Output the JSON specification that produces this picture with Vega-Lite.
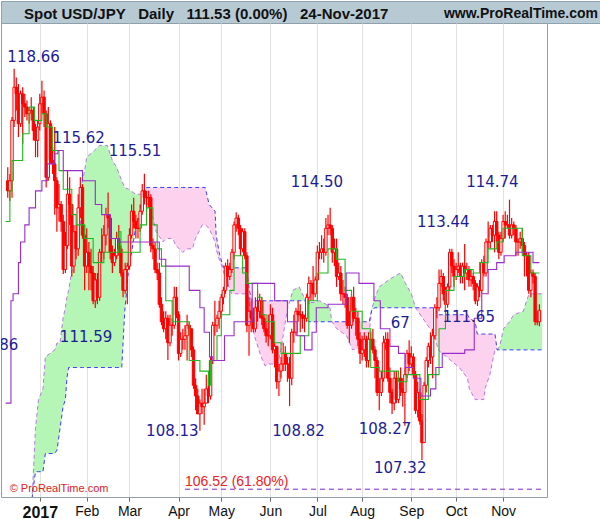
{
"$schema": "https://vega.github.io/schema/vega-lite/v6.json",
"padding": 0,
"autosize": {"type": "pad"},
"spacing": 0,
"bounds": "flush",
"background": "white",
"config": {"view": {"stroke": null}, "font": "Liberation Sans"},
"datasets": {
"header": [{"side": "left", "t": "Spot USD/JPY\u00a0\u00a0\u00a0Daily\u00a0\u00a0\u00a0111.53 (0.00%)\u00a0\u00a0\u00a024-Nov-2017"}, {"side": "right", "t": "www.ProRealTime.com"}],
"candles": [
{"i":-15,"o":115.3,"h":115.7,"l":114.8,"c":115.0},
{"i":-14,"o":115.0,"h":115.5,"l":114.7,"c":115.3},
{"i":-13,"o":115.3,"h":117.2,"l":114.8,"c":117.1},
{"i":-12,"o":117.1,"h":118.66,"l":116.9,"c":118.1},
{"i":-11,"o":118.1,"h":118.4,"l":117.4,"c":117.9},
{"i":-10,"o":117.9,"h":118.2,"l":116.6,"c":117.0},
{"i":-9,"o":117.0,"h":118.0,"l":116.9,"c":117.9},
{"i":-8,"o":117.9,"h":118.1,"l":116.4,"c":117.6},
{"i":-7,"o":117.6,"h":117.9,"l":117.2,"c":117.5},
{"i":-6,"o":117.5,"h":117.7,"l":117.1,"c":117.3},
{"i":-5,"o":117.3,"h":117.5,"l":117.0,"c":117.4},
{"i":-4,"o":117.4,"h":117.8,"l":117.1,"c":117.4},
{"i":-3,"o":117.4,"h":117.5,"l":116.5,"c":116.8},
{"i":-2,"o":116.8,"h":117.0,"l":116.0,"c":116.5},
{"i":-1,"o":116.5,"h":117.1,"l":116.0,"c":116.9},
{"i":0,"o":117.0,"h":117.9,"l":116.8,"c":117.6},
{"i":1,"o":117.6,"h":118.3,"l":117.3,"c":117.8},
{"i":2,"o":117.8,"h":118.0,"l":116.9,"c":117.3},
{"i":3,"o":117.3,"h":117.4,"l":115.1,"c":115.4},
{"i":4,"o":115.4,"h":117.5,"l":115.3,"c":117.0},
{"i":5,"o":117.0,"h":117.1,"l":115.8,"c":115.9},
{"i":6,"o":115.9,"h":116.3,"l":115.5,"c":115.8},
{"i":7,"o":115.8,"h":116.9,"l":114.3,"c":115.3},
{"i":8,"o":115.3,"h":115.4,"l":113.8,"c":114.5},
{"i":9,"o":114.5,"h":115.2,"l":114.1,"c":114.6},
{"i":10,"o":114.6,"h":114.7,"l":113.8,"c":114.1},
{"i":11,"o":114.1,"h":114.3,"l":112.57,"c":112.7},
{"i":12,"o":112.7,"h":113.8,"l":112.6,"c":113.4},
{"i":13,"o":113.4,"h":115.62,"l":113.3,"c":114.9},
{"i":14,"o":114.9,"h":115.4,"l":114.0,"c":114.6},
{"i":15,"o":114.6,"h":114.6,"l":112.5,"c":112.8},
{"i":16,"o":112.8,"h":114.0,"l":112.6,"c":113.8},
{"i":17,"o":113.8,"h":114.0,"l":113.0,"c":113.3},
{"i":18,"o":113.3,"h":114.9,"l":113.1,"c":114.5},
{"i":19,"o":114.5,"h":115.4,"l":114.2,"c":115.1},
{"i":20,"o":115.1,"h":115.2,"l":113.6,"c":113.7},
{"i":21,"o":113.7,"h":114.0,"l":112.1,"c":112.8},
{"i":22,"o":112.8,"h":113.9,"l":112.6,"c":113.2},
{"i":23,"o":113.2,"h":113.5,"l":112.1,"c":112.8},
{"i":24,"o":112.8,"h":113.3,"l":112.1,"c":112.6},
{"i":25,"o":112.6,"h":112.8,"l":111.7,"c":111.8},
{"i":26,"o":111.8,"h":112.6,"l":111.59,"c":112.4},
{"i":27,"o":112.4,"h":112.6,"l":111.7,"c":111.9},
{"i":28,"o":111.9,"h":113.3,"l":111.8,"c":113.2},
{"i":29,"o":113.2,"h":113.9,"l":112.9,"c":113.2},
{"i":30,"o":113.2,"h":114.0,"l":113.0,"c":113.7},
{"i":31,"o":113.7,"h":114.5,"l":113.4,"c":114.3},
{"i":32,"o":114.3,"h":114.95,"l":113.9,"c":114.2},
{"i":33,"o":114.2,"h":114.3,"l":113.0,"c":113.2},
{"i":34,"o":113.2,"h":113.4,"l":112.6,"c":112.9},
{"i":35,"o":112.9,"h":113.3,"l":112.8,"c":113.1},
{"i":36,"o":113.1,"h":113.8,"l":113.0,"c":113.6},
{"i":37,"o":113.6,"h":114.0,"l":113.1,"c":113.3},
{"i":38,"o":113.3,"h":113.4,"l":112.5,"c":112.6},
{"i":39,"o":112.6,"h":112.7,"l":111.9,"c":112.1},
{"i":40,"o":112.1,"h":112.9,"l":112.0,"c":112.7},
{"i":41,"o":112.7,"h":112.9,"l":111.7,"c":112.8},
{"i":42,"o":112.8,"h":113.9,"l":112.7,"c":113.7},
{"i":43,"o":113.7,"h":114.6,"l":113.6,"c":114.4},
{"i":44,"o":114.4,"h":114.8,"l":113.9,"c":114.1},
{"i":45,"o":114.1,"h":114.3,"l":113.6,"c":113.9},
{"i":46,"o":113.9,"h":114.2,"l":113.6,"c":113.9},
{"i":47,"o":113.9,"h":114.6,"l":113.8,"c":114.4},
{"i":48,"o":114.4,"h":115.2,"l":114.3,"c":115.0},
{"i":49,"o":115.0,"h":115.51,"l":114.6,"c":114.8},
{"i":50,"o":114.8,"h":115.0,"l":114.4,"c":114.8},
{"i":51,"o":114.8,"h":115.0,"l":114.5,"c":114.8},
{"i":52,"o":114.8,"h":114.9,"l":113.2,"c":113.4},
{"i":53,"o":113.4,"h":113.6,"l":113.0,"c":113.3},
{"i":54,"o":113.3,"h":113.5,"l":112.6,"c":112.7},
{"i":55,"o":112.7,"h":112.9,"l":112.4,"c":112.6},
{"i":56,"o":112.6,"h":112.9,"l":111.6,"c":111.7},
{"i":57,"o":111.7,"h":111.9,"l":111.1,"c":111.2},
{"i":58,"o":111.2,"h":111.5,"l":110.9,"c":111.0},
{"i":59,"o":111.0,"h":111.5,"l":110.7,"c":111.3},
{"i":60,"o":111.3,"h":111.4,"l":110.11,"c":110.6},
{"i":61,"o":110.6,"h":111.4,"l":110.5,"c":111.1},
{"i":62,"o":111.1,"h":111.3,"l":110.8,"c":111.1},
{"i":63,"o":111.1,"h":112.2,"l":111.0,"c":111.9},
{"i":64,"o":111.9,"h":112.2,"l":111.3,"c":111.4},
{"i":65,"o":111.4,"h":111.5,"l":110.1,"c":110.3},
{"i":66,"o":110.3,"h":110.9,"l":110.2,"c":110.7},
{"i":67,"o":110.7,"h":111.0,"l":110.4,"c":110.7},
{"i":68,"o":110.7,"h":111.1,"l":110.4,"c":110.8},
{"i":69,"o":110.8,"h":111.4,"l":110.1,"c":111.1},
{"i":70,"o":111.1,"h":111.2,"l":110.8,"c":111.0},
{"i":71,"o":111.0,"h":111.0,"l":110.2,"c":110.4},
{"i":72,"o":110.4,"h":110.5,"l":109.3,"c":109.4},
{"i":73,"o":109.4,"h":109.6,"l":108.7,"c":109.1},
{"i":74,"o":109.1,"h":109.3,"l":108.6,"c":108.6},
{"i":75,"o":108.6,"h":109.0,"l":108.13,"c":108.9},
{"i":76,"o":108.9,"h":109.3,"l":108.6,"c":108.8},
{"i":77,"o":108.8,"h":109.3,"l":108.3,"c":108.9},
{"i":78,"o":108.9,"h":109.7,"l":108.9,"c":109.3},
{"i":79,"o":109.3,"h":109.6,"l":108.9,"c":109.1},
{"i":80,"o":109.1,"h":110.2,"l":109.0,"c":110.1},
{"i":81,"o":110.1,"h":111.2,"l":110.0,"c":111.1},
{"i":82,"o":111.1,"h":111.8,"l":110.8,"c":111.1},
{"i":83,"o":111.1,"h":111.4,"l":110.9,"c":111.3},
{"i":84,"o":111.3,"h":111.8,"l":111.0,"c":111.5},
{"i":85,"o":111.5,"h":112.0,"l":111.3,"c":111.9},
{"i":86,"o":111.9,"h":112.2,"l":111.7,"c":112.1},
{"i":87,"o":112.1,"h":112.9,"l":112.0,"c":112.8},
{"i":88,"o":112.8,"h":113.0,"l":112.2,"c":112.5},
{"i":89,"o":112.5,"h":112.9,"l":112.4,"c":112.7},
{"i":90,"o":112.7,"h":113.3,"l":112.6,"c":113.2},
{"i":91,"o":113.2,"h":114.1,"l":113.0,"c":114.0},
{"i":92,"o":114.0,"h":114.37,"l":113.8,"c":114.2},
{"i":93,"o":114.2,"h":114.3,"l":113.7,"c":113.9},
{"i":94,"o":113.9,"h":114.0,"l":113.1,"c":113.3},
{"i":95,"o":113.3,"h":113.9,"l":113.2,"c":113.8},
{"i":96,"o":113.8,"h":113.9,"l":113.0,"c":113.1},
{"i":97,"o":113.1,"h":113.2,"l":110.9,"c":111.1},
{"i":98,"o":111.1,"h":111.9,"l":110.23,"c":111.5},
{"i":99,"o":111.5,"h":111.8,"l":110.9,"c":111.3},
{"i":100,"o":111.3,"h":111.6,"l":110.9,"c":111.0},
{"i":101,"o":111.0,"h":111.9,"l":110.9,"c":111.6},
{"i":102,"o":111.6,"h":112.1,"l":111.2,"c":111.5},
{"i":103,"o":111.5,"h":112.0,"l":111.3,"c":111.8},
{"i":104,"o":111.8,"h":111.9,"l":111.1,"c":111.3},
{"i":105,"o":111.3,"h":111.4,"l":110.9,"c":111.0},
{"i":106,"o":111.0,"h":111.2,"l":110.6,"c":110.8},
{"i":107,"o":110.8,"h":111.4,"l":110.5,"c":110.8},
{"i":108,"o":110.8,"h":111.7,"l":110.7,"c":111.4},
{"i":109,"o":111.4,"h":111.6,"l":110.3,"c":110.4},
{"i":110,"o":110.4,"h":110.6,"l":109.9,"c":110.5},
{"i":111,"o":110.5,"h":110.5,"l":109.3,"c":109.5},
{"i":112,"o":109.5,"h":110.0,"l":109.1,"c":109.8},
{"i":113,"o":109.8,"h":110.2,"l":109.6,"c":110.0},
{"i":114,"o":110.0,"h":110.6,"l":109.8,"c":110.3},
{"i":115,"o":110.3,"h":110.5,"l":109.8,"c":110.0},
{"i":116,"o":110.0,"h":110.2,"l":109.5,"c":110.0},
{"i":117,"o":110.0,"h":110.2,"l":108.82,"c":109.6},
{"i":118,"o":109.6,"h":111.0,"l":109.4,"c":110.9},
{"i":119,"o":110.9,"h":111.4,"l":110.6,"c":110.9},
{"i":120,"o":110.9,"h":111.6,"l":110.8,"c":111.5},
{"i":121,"o":111.5,"h":111.8,"l":111.2,"c":111.4},
{"i":122,"o":111.4,"h":111.7,"l":110.9,"c":111.4},
{"i":123,"o":111.4,"h":111.5,"l":111.0,"c":111.3},
{"i":124,"o":111.3,"h":111.4,"l":110.9,"c":111.3},
{"i":125,"o":111.3,"h":112.0,"l":111.2,"c":111.9},
{"i":126,"o":111.9,"h":112.5,"l":111.7,"c":112.3},
{"i":127,"o":112.3,"h":112.4,"l":111.8,"c":112.3},
{"i":128,"o":112.3,"h":112.8,"l":111.8,"c":112.0},
{"i":129,"o":112.0,"h":112.5,"l":111.9,"c":112.4},
{"i":130,"o":112.4,"h":113.4,"l":112.3,"c":113.2},
{"i":131,"o":113.2,"h":113.5,"l":113.0,"c":113.2},
{"i":132,"o":113.2,"h":113.7,"l":113.0,"c":113.3},
{"i":133,"o":113.3,"h":113.6,"l":112.9,"c":113.2},
{"i":134,"o":113.2,"h":114.2,"l":113.1,"c":113.9},
{"i":135,"o":113.9,"h":114.3,"l":113.7,"c":114.0},
{"i":136,"o":114.0,"h":114.5,"l":113.7,"c":113.9},
{"i":137,"o":113.9,"h":114.0,"l":112.9,"c":113.2},
{"i":138,"o":113.2,"h":113.6,"l":112.8,"c":113.3},
{"i":139,"o":113.3,"h":113.6,"l":112.2,"c":112.5},
{"i":140,"o":112.5,"h":112.9,"l":112.4,"c":112.6},
{"i":141,"o":112.6,"h":112.8,"l":111.8,"c":112.0},
{"i":142,"o":112.0,"h":112.4,"l":111.7,"c":112.0},
{"i":143,"o":112.0,"h":112.2,"l":111.6,"c":111.9},
{"i":144,"o":111.9,"h":112.0,"l":111.0,"c":111.1},
{"i":145,"o":111.1,"h":111.5,"l":110.6,"c":111.1},
{"i":146,"o":111.1,"h":112.0,"l":111.0,"c":111.9},
{"i":147,"o":111.9,"h":112.2,"l":111.2,"c":111.3},
{"i":148,"o":111.3,"h":111.6,"l":110.8,"c":111.3},
{"i":149,"o":111.3,"h":111.5,"l":110.5,"c":110.7},
{"i":150,"o":110.7,"h":110.9,"l":110.0,"c":110.3},
{"i":151,"o":110.3,"h":110.8,"l":110.1,"c":110.4},
{"i":152,"o":110.4,"h":110.9,"l":110.2,"c":110.7},
{"i":153,"o":110.7,"h":110.8,"l":109.9,"c":110.1},
{"i":154,"o":110.1,"h":110.9,"l":109.9,"c":110.7},
{"i":155,"o":110.7,"h":110.9,"l":110.4,"c":110.7},
{"i":156,"o":110.7,"h":111.0,"l":110.3,"c":110.4},
{"i":157,"o":110.4,"h":110.5,"l":109.6,"c":110.1},
{"i":158,"o":110.1,"h":110.2,"l":109.1,"c":109.2},
{"i":159,"o":109.2,"h":109.6,"l":108.7,"c":109.2},
{"i":160,"o":109.2,"h":109.8,"l":109.1,"c":109.6},
{"i":161,"o":109.6,"h":110.8,"l":109.5,"c":110.6},
{"i":162,"o":110.6,"h":110.9,"l":110.4,"c":110.7},
{"i":163,"o":110.7,"h":110.9,"l":109.5,"c":109.6},
{"i":164,"o":109.6,"h":109.9,"l":108.9,"c":109.2},
{"i":165,"o":109.2,"h":109.3,"l":108.6,"c":108.9},
{"i":166,"o":108.9,"h":109.8,"l":108.7,"c":109.6},
{"i":167,"o":109.6,"h":109.8,"l":108.9,"c":109.0},
{"i":168,"o":109.0,"h":109.8,"l":108.9,"c":109.6},
{"i":169,"o":109.6,"h":109.9,"l":109.1,"c":109.3},
{"i":170,"o":109.3,"h":109.6,"l":108.8,"c":109.2},
{"i":171,"o":109.2,"h":109.9,"l":108.27,"c":109.7},
{"i":172,"o":109.7,"h":110.4,"l":109.6,"c":110.3},
{"i":173,"o":110.3,"h":110.67,"l":109.8,"c":110.0},
{"i":174,"o":110.0,"h":110.5,"l":109.9,"c":110.2},
{"i":175,"o":110.2,"h":110.3,"l":109.6,"c":109.7},
{"i":176,"o":109.7,"h":109.8,"l":108.6,"c":108.7},
{"i":177,"o":108.7,"h":109.5,"l":108.5,"c":109.2},
{"i":178,"o":109.2,"h":109.3,"l":108.3,"c":108.4},
{"i":179,"o":108.4,"h":108.6,"l":107.32,"c":107.8},
{"i":180,"o":107.8,"h":109.5,"l":107.8,"c":109.4},
{"i":181,"o":109.4,"h":110.2,"l":109.2,"c":110.1},
{"i":182,"o":110.1,"h":110.6,"l":109.9,"c":110.5},
{"i":183,"o":110.5,"h":110.9,"l":110.0,"c":110.2},
{"i":184,"o":110.2,"h":111.0,"l":109.6,"c":110.8},
{"i":185,"o":110.8,"h":111.7,"l":110.7,"c":111.6},
{"i":186,"o":111.6,"h":111.9,"l":111.3,"c":111.6},
{"i":187,"o":111.6,"h":112.7,"l":111.5,"c":112.3},
{"i":188,"o":112.3,"h":112.7,"l":112.2,"c":112.5},
{"i":189,"o":112.5,"h":112.6,"l":111.8,"c":112.0},
{"i":190,"o":112.0,"h":112.2,"l":111.5,"c":111.7},
{"i":191,"o":111.7,"h":112.3,"l":111.6,"c":112.2},
{"i":192,"o":112.2,"h":113.3,"l":112.1,"c":113.2},
{"i":193,"o":113.2,"h":113.3,"l":112.6,"c":112.8},
{"i":194,"o":112.8,"h":113.0,"l":112.2,"c":112.5},
{"i":195,"o":112.5,"h":112.9,"l":112.4,"c":112.7},
{"i":196,"o":112.7,"h":113.2,"l":112.6,"c":112.8},
{"i":197,"o":112.8,"h":112.9,"l":112.3,"c":112.5},
{"i":198,"o":112.5,"h":112.9,"l":112.3,"c":112.8},
{"i":199,"o":112.8,"h":113.44,"l":112.1,"c":112.6},
{"i":200,"o":112.6,"h":112.9,"l":112.4,"c":112.7},
{"i":201,"o":112.7,"h":112.8,"l":112.2,"c":112.4},
{"i":202,"o":112.4,"h":112.7,"l":112.2,"c":112.5},
{"i":203,"o":112.5,"h":112.6,"l":112.1,"c":112.3},
{"i":204,"o":112.3,"h":112.4,"l":111.7,"c":111.8},
{"i":205,"o":111.8,"h":112.3,"l":111.65,"c":112.2},
{"i":206,"o":112.2,"h":112.4,"l":111.9,"c":112.1},
{"i":207,"o":112.1,"h":113.0,"l":112.0,"c":112.9},
{"i":208,"o":112.9,"h":113.1,"l":112.5,"c":112.6},
{"i":209,"o":112.6,"h":113.6,"l":112.5,"c":113.5},
{"i":210,"o":113.5,"h":114.1,"l":113.3,"c":113.5},
{"i":211,"o":113.5,"h":114.0,"l":113.3,"c":113.9},
{"i":212,"o":113.9,"h":114.0,"l":113.5,"c":113.7},
{"i":213,"o":113.7,"h":114.4,"l":113.2,"c":114.1},
{"i":214,"o":114.1,"h":114.4,"l":113.5,"c":113.7},
{"i":215,"o":113.7,"h":113.8,"l":113.0,"c":113.2},
{"i":216,"o":113.2,"h":113.8,"l":113.1,"c":113.6},
{"i":217,"o":113.6,"h":114.3,"l":113.5,"c":114.1},
{"i":218,"o":114.1,"h":114.4,"l":113.6,"c":114.0},
{"i":219,"o":114.0,"h":114.3,"l":113.9,"c":114.0},
{"i":220,"o":114.0,"h":114.74,"l":113.6,"c":113.7},
{"i":221,"o":113.7,"h":114.2,"l":113.6,"c":114.0},
{"i":222,"o":114.0,"h":114.1,"l":113.7,"c":113.9},
{"i":223,"o":113.9,"h":114.0,"l":113.1,"c":113.5},
{"i":224,"o":113.5,"h":113.6,"l":113.1,"c":113.5},
{"i":225,"o":113.5,"h":113.8,"l":113.3,"c":113.6},
{"i":226,"o":113.6,"h":113.9,"l":113.2,"c":113.4},
{"i":227,"o":113.4,"h":113.5,"l":112.5,"c":113.1},
{"i":228,"o":113.1,"h":113.2,"l":112.5,"c":113.1},
{"i":229,"o":113.1,"h":113.2,"l":112.0,"c":112.1},
{"i":230,"o":112.1,"h":112.7,"l":111.9,"c":112.6},
{"i":231,"o":112.6,"h":112.7,"l":112.3,"c":112.5},
{"i":232,"o":112.5,"h":112.6,"l":111.1,"c":111.2},
{"i":233,"o":111.2,"h":111.5,"l":111.1,"c":111.2},
{"i":234,"o":111.2,"h":111.7,"l":111.07,"c":111.53}
],
"tenkan": [
{"i":-16,"v":114.1},{"i":-14,"v":115.0},{"i":-13,"v":115.9},{"i":-8,"v":116.7},{"i":-5,"v":117.5},{"i":-2.5,"v":117.1},{"i":1,"v":117.3},{"i":3,"v":116.9},{"i":6,"v":116.2},{"i":9,"v":115.6},{"i":11,"v":115.05},{"i":15,"v":114.3},{"i":17,"v":114.0},{"i":21,"v":113.6},{"i":25,"v":112.9},{"i":30,"v":113.2},{"i":37,"v":113.8},{"i":38,"v":113.2},{"i":47,"v":114.0},{"i":50,"v":114.5},{"i":53,"v":114.0},{"i":55,"v":113.3},{"i":57,"v":112.8},{"i":59,"v":111.8},{"i":62,"v":111.2},{"i":70,"v":110.1},{"i":75,"v":109.8},{"i":79,"v":109.4},{"i":80,"v":110.1},{"i":83,"v":110.8},{"i":85,"v":111.4},{"i":89,"v":112.1},{"i":91,"v":113.1},{"i":95,"v":112.6},{"i":97,"v":112.3},{"i":102,"v":111.9},{"i":104,"v":111.4},{"i":106,"v":111.2},{"i":110,"v":110.6},{"i":113,"v":110.3},{"i":122,"v":110.8},{"i":126,"v":111.8},{"i":130,"v":112.6},{"i":135,"v":113.3},{"i":139,"v":113.0},{"i":143,"v":112.1},{"i":146,"v":111.5},{"i":151,"v":111.0},{"i":155,"v":109.9},{"i":159,"v":109.8},{"i":168,"v":109.5},{"i":172,"v":109.7},{"i":178,"v":109.0},{"i":182,"v":109.7},{"i":187,"v":111.0},{"i":190,"v":112.1},{"i":194,"v":112.5},{"i":199,"v":112.7},{"i":203,"v":112.6},{"i":206,"v":112.9},{"i":210,"v":113.3},{"i":214,"v":113.5},{"i":217,"v":113.9},{"i":226,"v":113.1},{"i":230,"v":112.6},{"i":234,"v":112.6}
],
"kijun": [
{"i":-16,"v":108.9},{"i":-13.5,"v":111.8},{"i":-12.5,"v":112.0},{"i":-10,"v":112.9},{"i":-9,"v":113.5},{"i":-7,"v":114.0},{"i":-5,"v":114.5},{"i":-2,"v":115.0},{"i":1,"v":115.3},{"i":3.5,"v":115.8},{"i":7,"v":116.1},{"i":8.5,"v":116.2},{"i":11,"v":115.6},{"i":20,"v":115.3},{"i":26,"v":114.6},{"i":29,"v":114.3},{"i":33,"v":113.6},{"i":37,"v":113.5},{"i":56,"v":113.0},{"i":59,"v":112.8},{"i":70,"v":112.1},{"i":75,"v":111.6},{"i":77,"v":110.9},{"i":79.5,"v":110.2},{"i":81,"v":110.1},{"i":86.5,"v":110.8},{"i":91,"v":111.2},{"i":99.5,"v":112.3},{"i":110,"v":111.8},{"i":116,"v":111.2},{"i":120.5,"v":110.8},{"i":124,"v":110.4},{"i":127.5,"v":110.9},{"i":129.5,"v":111.6},{"i":135,"v":111.7},{"i":143.5,"v":112.6},{"i":149.5,"v":112.3},{"i":156.5,"v":111.8},{"i":159.5,"v":111.0},{"i":164,"v":110.5},{"i":168,"v":110.3},{"i":171,"v":109.9},{"i":175,"v":109.6},{"i":178.5,"v":109.1},{"i":183,"v":109.3},{"i":185.5,"v":109.9},{"i":188.5,"v":110.3},{"i":199,"v":110.4},{"i":203.5,"v":111.3},{"i":207,"v":112.0},{"i":210,"v":112.7},{"i":214,"v":112.9},{"i":217.5,"v":113.1},{"i":223,"v":113.2},{"i":231,"v":112.9},{"i":234,"v":112.9}
],
"cloud": [
{"seg":1,"k":"g","i":-16,"a":104.5,"b":104.0},
{"seg":1,"k":"g","i":-5,"a":105.5,"b":105.0},
{"seg":1,"k":"g","i":-3.4,"a":106.5,"b":106.4},
{"seg":1,"k":"g","i":-2,"a":108.2,"b":107.0},
{"seg":1,"k":"g","i":-0.6,"a":109.0,"b":107.0},
{"seg":1,"k":"g","i":1.5,"a":109.3,"b":107.0},
{"seg":1,"k":"g","i":2.6,"a":110.2,"b":107.5},
{"seg":1,"k":"g","i":7,"a":110.4,"b":107.5},
{"seg":1,"k":"g","i":8.1,"a":110.6,"b":107.6},
{"seg":1,"k":"g","i":9.5,"a":110.6,"b":108.2},
{"seg":1,"k":"g","i":10.9,"a":111.3,"b":108.8},
{"seg":1,"k":"g","i":12,"a":111.6,"b":109.0},
{"seg":1,"k":"g","i":12.7,"a":111.9,"b":109.6},
{"seg":1,"k":"g","i":13.5,"a":112.1,"b":109.9},
{"seg":1,"k":"g","i":16,"a":113.0,"b":109.9},
{"seg":1,"k":"g","i":19,"a":114.0,"b":109.9},
{"seg":1,"k":"g","i":20,"a":115.3,"b":109.9},
{"seg":1,"k":"g","i":21,"a":115.6,"b":109.9},
{"seg":1,"k":"g","i":22,"a":116.0,"b":109.9},
{"seg":1,"k":"g","i":25.6,"a":116.2,"b":109.9},
{"seg":1,"k":"g","i":28,"a":116.35,"b":109.9},
{"seg":1,"k":"g","i":31.6,"a":116.35,"b":109.9},
{"seg":1,"k":"g","i":34,"a":115.9,"b":109.9},
{"seg":1,"k":"g","i":36,"a":115.7,"b":109.9},
{"seg":1,"k":"g","i":38.4,"a":115.3,"b":109.9},
{"seg":1,"k":"g","i":39.8,"a":115.1,"b":111.5},
{"seg":1,"k":"g","i":41.6,"a":115.05,"b":112.7},
{"seg":1,"k":"g","i":44.9,"a":114.9,"b":113.9},
{"seg":1,"k":"g","i":47.6,"a":114.9,"b":114.6},
{"seg":1,"k":"g","i":48.5,"a":114.8,"b":114.8},
{"seg":2,"k":"p","i":48.5,"a":114.8,"b":114.8},
{"seg":2,"k":"p","i":49.9,"a":114.65,"b":115.1},
{"seg":2,"k":"p","i":51.8,"a":114.5,"b":115.1},
{"seg":2,"k":"p","i":54.5,"a":113.8,"b":115.1},
{"seg":2,"k":"p","i":57.7,"a":113.5,"b":115.1},
{"seg":2,"k":"p","i":59.1,"a":113.6,"b":115.1},
{"seg":2,"k":"p","i":62.3,"a":113.6,"b":115.1},
{"seg":2,"k":"p","i":63.7,"a":113.4,"b":115.1},
{"seg":2,"k":"p","i":66.9,"a":113.2,"b":115.1},
{"seg":2,"k":"p","i":69,"a":113.3,"b":115.1},
{"seg":2,"k":"p","i":71.5,"a":113.3,"b":115.1},
{"seg":2,"k":"p","i":72.9,"a":113.6,"b":115.1},
{"seg":2,"k":"p","i":76.1,"a":114.0,"b":115.1},
{"seg":2,"k":"p","i":77.5,"a":114.0,"b":115.1},
{"seg":2,"k":"p","i":79.3,"a":113.9,"b":114.6},
{"seg":2,"k":"p","i":82.1,"a":113.5,"b":114.4},
{"seg":2,"k":"p","i":82.6,"a":113.3,"b":113.7},
{"seg":2,"k":"p","i":84,"a":113.0,"b":113.2},
{"seg":2,"k":"p","i":85.3,"a":112.8,"b":112.9},
{"seg":2,"k":"p","i":86.2,"a":112.6,"b":112.75},
{"seg":2,"k":"p","i":89.9,"a":112.0,"b":112.75},
{"seg":2,"k":"p","i":96.8,"a":112.0,"b":112.75},
{"seg":2,"k":"p","i":97.7,"a":111.9,"b":112.3},
{"seg":2,"k":"p","i":99.1,"a":111.3,"b":111.8},
{"seg":2,"k":"p","i":100.5,"a":110.8,"b":111.8},
{"seg":2,"k":"p","i":103.7,"a":110.2,"b":111.8},
{"seg":2,"k":"p","i":105.5,"a":109.95,"b":111.8},
{"seg":2,"k":"p","i":107.4,"a":110.0,"b":111.8},
{"seg":2,"k":"p","i":111.5,"a":110.0,"b":111.8},
{"seg":2,"k":"p","i":112.9,"a":110.4,"b":111.8},
{"seg":2,"k":"p","i":114.5,"a":111.0,"b":111.8},
{"seg":2,"k":"p","i":116.1,"a":111.6,"b":111.8},
{"seg":2,"k":"p","i":117.2,"a":111.8,"b":111.8},
{"seg":3,"k":"g","i":117.2,"a":111.8,"b":111.8},
{"seg":3,"k":"g","i":118.5,"a":112.1,"b":111.8},
{"seg":3,"k":"g","i":121.5,"a":112.2,"b":111.8},
{"seg":3,"k":"g","i":123,"a":112.0,"b":111.8},
{"seg":3,"k":"g","i":124.6,"a":111.8,"b":111.8},
{"seg":3,"k":"g","i":125.8,"a":111.75,"b":111.2},
{"seg":3,"k":"g","i":128,"a":111.75,"b":111.2},
{"seg":3,"k":"g","i":131,"a":111.8,"b":111.2},
{"seg":3,"k":"g","i":134,"a":111.7,"b":111.2},
{"seg":3,"k":"g","i":135.9,"a":111.6,"b":111.2},
{"seg":3,"k":"g","i":136.8,"a":111.2,"b":111.2},
{"seg":4,"k":"p","i":136.8,"a":111.2,"b":111.2},
{"seg":4,"k":"p","i":139.1,"a":111.0,"b":111.2},
{"seg":4,"k":"p","i":143.7,"a":110.8,"b":111.2},
{"seg":4,"k":"p","i":146.5,"a":110.4,"b":111.2},
{"seg":4,"k":"p","i":152.9,"a":110.5,"b":111.2},
{"seg":4,"k":"p","i":154.3,"a":110.9,"b":111.2},
{"seg":4,"k":"p","i":155.5,"a":111.55,"b":111.55},
{"seg":5,"k":"g","i":155.5,"a":111.55,"b":111.55},
{"seg":5,"k":"g","i":157,"a":111.9,"b":111.6},
{"seg":5,"k":"g","i":159,"a":112.2,"b":111.6},
{"seg":5,"k":"g","i":163.5,"a":112.4,"b":111.6},
{"seg":5,"k":"g","i":166,"a":112.5,"b":111.6},
{"seg":5,"k":"g","i":169,"a":112.6,"b":111.6},
{"seg":5,"k":"g","i":171.3,"a":112.3,"b":111.6},
{"seg":5,"k":"g","i":174,"a":112.0,"b":111.6},
{"seg":5,"k":"g","i":176,"a":111.6,"b":111.6},
{"seg":6,"k":"p","i":176,"a":111.6,"b":111.6},
{"seg":6,"k":"p","i":180.5,"a":111.2,"b":111.6},
{"seg":6,"k":"p","i":185.1,"a":110.8,"b":111.6},
{"seg":6,"k":"p","i":186.5,"a":110.4,"b":111.4},
{"seg":6,"k":"p","i":192.5,"a":110.1,"b":111.4},
{"seg":6,"k":"p","i":196.5,"a":109.9,"b":111.4},
{"seg":6,"k":"p","i":200.3,"a":109.6,"b":111.4},
{"seg":6,"k":"p","i":201.2,"a":109.3,"b":111.3},
{"seg":6,"k":"p","i":203.9,"a":109.0,"b":111.2},
{"seg":6,"k":"p","i":204.9,"a":109.0,"b":110.85},
{"seg":6,"k":"p","i":208,"a":109.0,"b":110.85},
{"seg":6,"k":"p","i":208.5,"a":109.3,"b":110.85},
{"seg":6,"k":"p","i":210.8,"a":109.7,"b":110.85},
{"seg":6,"k":"p","i":211.8,"a":110.0,"b":110.85},
{"seg":6,"k":"p","i":213.2,"a":110.4,"b":110.85},
{"seg":6,"k":"p","i":214.2,"a":110.4,"b":110.4},
{"seg":7,"k":"g","i":214.2,"a":110.4,"b":110.4},
{"seg":7,"k":"g","i":215.4,"a":110.5,"b":110.4},
{"seg":7,"k":"g","i":217.2,"a":111.0,"b":110.4},
{"seg":7,"k":"g","i":220,"a":111.2,"b":110.4},
{"seg":7,"k":"g","i":222,"a":111.4,"b":110.4},
{"seg":7,"k":"g","i":226.5,"a":111.5,"b":110.4},
{"seg":7,"k":"g","i":228,"a":111.8,"b":110.4},
{"seg":7,"k":"g","i":229.2,"a":112.0,"b":110.4},
{"seg":7,"k":"g","i":235.3,"a":112.0,"b":110.4}
],
"labels": [
{"i":-2.9,"v":119.02,"t":"118.66"},
{"i":18.2,"v":116.56,"t":"115.62"},
{"i":44.6,"v":116.18,"t":"115.51"},
{"i":21.7,"v":110.77,"t":"111.59"},
{"i":-22.3,"v":110.54,"t":"111.86"},
{"i":62.1,"v":108.13,"t":"108.13"},
{"i":121.2,"v":108.13,"t":"108.82"},
{"i":129.8,"v":115.25,"t":"114.50"},
{"i":212.0,"v":115.27,"t":"114.74"},
{"i":189.0,"v":114.07,"t":"113.44"},
{"i":200.9,"v":111.34,"t":"111.65"},
{"i":168.8,"v":111.15,"t":"67"},
{"i":161.7,"v":108.17,"t":"108.27"},
{"i":168.8,"v":107.1,"t":"107.32"}
],
"fib": [{"i":68,"i2":235.3,"v":106.52,"t":"106.52 (61.80%)","tv":106.72}],
"copy": [{"i":-14.1,"v":106.53,"t":"© ProRealTime.com"}]
},
"vconcat": [
{
"width": 600, "height": 22,
"view": {"fill": "#b7cad4", "stroke": "#8da3af"},
"data": {"name": "header"},
"layer": [
{"transform": [{"filter": "datum.side === 'left'"}],
 "mark": {"type": "text", "align": "left", "baseline": "middle", "dx": -277, "dy": 2, "font": "Liberation Sans", "fontSize": 15, "fontWeight": "bold", "color": "#111111"},
 "encoding": {"text": {"field": "t"}}},
{"transform": [{"filter": "datum.side === 'right'"}],
 "mark": {"type": "text", "align": "right", "baseline": "middle", "dx": 297, "dy": 2, "font": "Liberation Sans", "fontSize": 14, "fontWeight": "bold", "color": "#111111"},
 "encoding": {"text": {"field": "t"}}}
]
},
{
"width": 546, "height": 474,
"view": {"fill": "white", "stroke": "#8fa0aa"},
"encoding": {
 "x": {"field": "i", "type": "quantitative",
  "scale": {"domain": [-15.82, 235.22], "nice": false, "zero": false},
  "axis": {"values": [0,22,42,65,85,108,130,151,174,195,217],
   "labelExpr": "['2017','Feb','Mar','Apr','May','Jun','Jul','Aug','Sep','Oct','Nov'][indexof([0,22,42,65,85,108,130,151,174,195,217], datum.value)]",
   "title": null, "grid": true, "gridColor": "#e2e2e2", "tickSize": 4, "tickColor": "#666666",
   "domainColor": "#8fa0aa", "labelFont": "Liberation Sans",
   "labelFontSize": {"condition": {"test": "datum.value === 0", "value": 16}, "value": 14},
   "labelFontWeight": {"condition": {"test": "datum.value === 0", "value": "bold"}, "value": "normal"},
   "labelColor": "#111111", "labelPadding": 3, "labelFlush": false, "labelOverlap": false}}
},
"layer": [
{"data": {"name": "cloud"},
 "mark": {"type": "area", "clip": true, "opacity": 1},
 "encoding": {
  "y": {"field": "a", "type": "quantitative", "stack": null,
   "scale": {"type": "log", "domain": [106.307, 120.065], "nice": false, "zero": false},
   "axis": {"orient": "right", "values": [107,108,109,110,111,112,113,114,115,116,117,118,119,120], "format": "d",
    "title": null, "grid": true, "gridColor": "#e2e2e2", "tickSize": 4, "tickColor": "#666666",
    "domainColor": "#8fa0aa", "labelFont": "Liberation Sans",
    "labelFontSize": {"condition": {"test": "datum.value % 5 === 0", "value": 16}, "value": 15},
    "labelFontWeight": {"condition": {"test": "datum.value % 5 === 0", "value": "bold"}, "value": "normal"},
    "labelColor": "#111111", "labelPadding": 2, "labelFlush": 4, "labelOverlap": false}},
  "y2": {"field": "b"},
  "color": {"field": "k", "type": "nominal", "scale": {"domain": ["g", "p"], "range": ["#b5f5b5", "#fcd2ee"]}, "legend": null},
  "detail": {"field": "seg", "type": "nominal"}
 }},
{"data": {"name": "cloud"},
 "mark": {"type": "line", "clip": true, "color": "#b679e6", "strokeWidth": 1, "strokeDash": [4, 3]},
 "encoding": {"y": {"field": "a", "type": "quantitative", "axis": null}, "order": {"field": "i", "type": "quantitative"}}},
{"data": {"name": "cloud"},
 "mark": {"type": "line", "clip": true, "color": "#3c3cff", "strokeWidth": 1, "strokeDash": [4, 3]},
 "encoding": {"y": {"field": "b", "type": "quantitative", "axis": null}, "order": {"field": "i", "type": "quantitative"}}},
{"data": {"name": "fib"},
 "mark": {"type": "rule", "clip": true, "color": "#7d22d0", "strokeWidth": 1, "strokeDash": [5, 4]},
 "encoding": {"y": {"field": "v", "type": "quantitative", "axis": null}, "x2": {"field": "i2"}}},
{"data": {"name": "candles"},
 "mark": {"type": "rule", "clip": true, "color": "#ff0000", "strokeWidth": 1.2},
 "encoding": {"y": {"field": "l", "type": "quantitative", "axis": null}, "y2": {"field": "h"}}},
{"data": {"name": "candles"},
 "mark": {"type": "bar", "clip": true, "width": 2.4, "stroke": "#ff0000", "strokeWidth": 1},
 "encoding": {"y": {"field": "o", "type": "quantitative", "axis": null}, "y2": {"field": "c"},
  "fill": {"condition": {"test": "datum.c > datum.o", "value": "#ffffff"}, "value": "#ff0000"}}},
{"data": {"name": "tenkan"},
 "mark": {"type": "line", "clip": true, "color": "#1cb81c", "strokeWidth": 1.1, "interpolate": "step-after"},
 "encoding": {"y": {"field": "v", "type": "quantitative", "axis": null}}},
{"data": {"name": "kijun"},
 "mark": {"type": "line", "clip": true, "color": "#9a2ccc", "strokeWidth": 1.1, "interpolate": "step-after"},
 "encoding": {"y": {"field": "v", "type": "quantitative", "axis": null}}},
{"data": {"name": "labels"},
 "mark": {"type": "text", "clip": true, "align": "center", "baseline": "middle", "font": "DejaVu Sans", "fontSize": 15, "color": "#1c1c96"},
 "encoding": {"y": {"field": "v", "type": "quantitative", "axis": null}, "text": {"field": "t"}}},
{"data": {"name": "fib"},
 "mark": {"type": "text", "clip": true, "align": "left", "baseline": "middle", "font": "Liberation Sans", "fontSize": 14, "color": "#ee2020"},
 "encoding": {"y": {"field": "tv", "type": "quantitative", "axis": null}, "text": {"field": "t"}}},
{"data": {"name": "copy"},
 "mark": {"type": "text", "clip": true, "align": "left", "baseline": "middle", "font": "Liberation Sans", "fontSize": 11, "color": "#e02020"},
 "encoding": {"y": {"field": "v", "type": "quantitative", "axis": null}, "text": {"field": "t"}}}
]
}
]
}
